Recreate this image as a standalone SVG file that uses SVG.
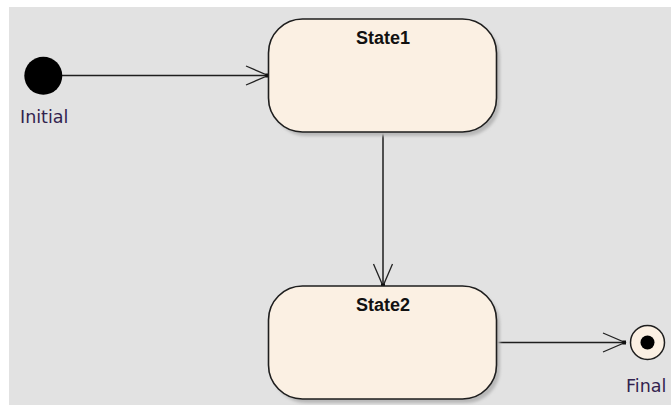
<svg xmlns="http://www.w3.org/2000/svg" width="671" height="405" viewBox="0 0 671 405">
  <defs>
    <filter id="shadow" x="-10%" y="-10%" width="130%" height="130%">
      <feGaussianBlur stdDeviation="1.6"/>
    </filter>
    <marker id="openArrow" markerUnits="userSpaceOnUse" markerWidth="30" markerHeight="30" refX="24" refY="12" orient="auto" viewBox="0 0 30 24">
      <path d="M2,2.5 L24,12 L2,21.5" fill="none" stroke="#222" stroke-width="1.3"/>
      <rect x="21.5" y="10" width="3.5" height="4" fill="#111"/>
    </marker>
    <style>
      .state { fill: #fbf0e3; stroke: #1e1e1e; stroke-width: 1.6; }
      .shadow { fill: #b8b8b8; filter: url(#shadow); }
      .conn { stroke: #1e1e1e; stroke-width: 1.5; fill: none; marker-end: url(#openArrow); }
      .slabel { font-family: "Liberation Sans", Arial, sans-serif; font-weight: bold; font-size: 18px; fill: #111; text-anchor: middle; }
      .plabel { font-family: "DejaVu Sans", Verdana, sans-serif; font-size: 17.5px; fill: #33234f; }
    </style>
  </defs>

  <rect x="0" y="0" width="671" height="405" fill="#ffffff"/>
  <rect x="9" y="7" width="662" height="398" fill="#e2e2e2"/>

  <g id="connectors">
    <line class="conn" x1="62" y1="75.5" x2="268" y2="75.5"/>
    <line class="conn" x1="383" y1="132" x2="383" y2="286"/>
    <line class="conn" x1="497" y1="342.5" x2="625" y2="342.5"/>
  </g>

  <g id="initial">
    <circle cx="43.3" cy="75.8" r="19" fill="#000"/>
    <text class="plabel" x="20" y="122.5">Initial</text>
  </g>

  <g id="state1">
    <rect class="shadow" x="272" y="23" width="228" height="113" rx="34" ry="34"/>
    <rect class="state" x="268.5" y="19" width="228" height="113" rx="34" ry="34"/>
    <text class="slabel" x="383" y="43.5">State1</text>
  </g>

  <g id="state2">
    <rect class="shadow" x="272" y="290" width="228" height="113" rx="34" ry="34"/>
    <rect class="state" x="268.5" y="286" width="228" height="113" rx="34" ry="34"/>
    <text class="slabel" x="383" y="310.5">State2</text>
  </g>

  <g id="final">
    <circle cx="647.5" cy="342.5" r="17" fill="#fbf0e3" stroke="#1e1e1e" stroke-width="1.5"/>
    <circle cx="647.5" cy="342.5" r="7" fill="#000"/>
    <text class="plabel" x="626" y="391.5">Final</text>
  </g>
</svg>
